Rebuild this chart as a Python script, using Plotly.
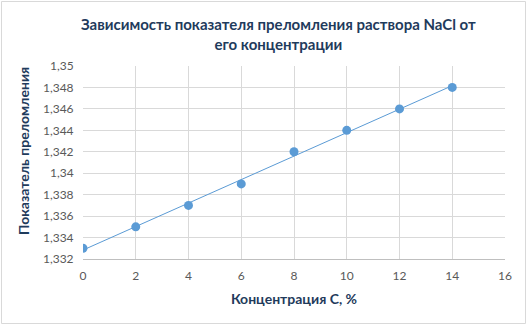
import numpy as np
import plotly.graph_objects as go

# Data
conc = [0, 2, 4, 6, 8, 10, 12, 14]
n_vals = [1.333, 1.335, 1.337, 1.339, 1.342, 1.344, 1.346, 1.348]
y_ticks = [1.332, 1.334, 1.336, 1.338, 1.34, 1.342, 1.344, 1.346, 1.348, 1.35]
y_tick_labels = ["1,332", "1,334", "1,336", "1,338", "1,34", "1,342", "1,344", "1,346", "1,348", "1,35"]
x_ticks = [0, 2, 4, 6, 8, 10, 12, 14, 16]

W, H = 527, 325
L, R, T, B = 83, 22, 66, 66
pw, ph = W - L - R, H - T - B

def px_x(p):
    return (p - L) / pw

def px_y(p):
    return (H - B - p) / ph

# linear trend line computed from data
k, b0 = np.polyfit(conc, n_vals, 1)
tx = [min(conc), max(conc)]
ty = [k * v + b0 for v in tx]

blue = "#5B9BD5"
title_col = "#1F3B5C"
tick_col = "#595959"
grid_col = "#D9D9D9"
font = "Lato, 'Open Sans', sans-serif"

fig = go.Figure()
fig.add_trace(go.Scatter(x=tx, y=ty, mode="lines",
                         line=dict(color=blue, width=1), hoverinfo="skip", showlegend=False))
fig.add_trace(go.Scatter(x=conc, y=n_vals, mode="markers",
                         marker=dict(color=blue, size=9), showlegend=False))

fig.update_layout(
    width=W, height=H,
    margin=dict(l=L, r=R, t=T, b=B),
    paper_bgcolor="white", plot_bgcolor="white",
    separators=", ",
    font=dict(family=font, color=tick_col, size=12),
    xaxis=dict(range=[0, 16], tickvals=x_ticks, showgrid=True, gridcolor=grid_col,
               gridwidth=1, zeroline=False, showline=True, linecolor="#BFBFBF",
               ticks="outside", ticklen=6, tickcolor="rgba(0,0,0,0)",
               tickfont=dict(size=12, color=tick_col),
               title=dict(text="<b>Концентрация С, %</b>", font=dict(size=14, color=title_col),
                          standoff=11),
               fixedrange=True),
    yaxis=dict(range=[1.332, 1.35], tickvals=y_ticks, ticktext=y_tick_labels,
               showgrid=True, gridcolor=grid_col, gridwidth=1, zeroline=False,
               showline=False, ticks="outside", ticklen=6, tickcolor="rgba(0,0,0,0)",
               tickfont=dict(size=12, color=tick_col),
               fixedrange=True),
    annotations=[
        dict(text="<b>Зависимость показателя преломления раствора NaCl от<br>его концентрации</b>",
             xref="paper", yref="paper", x=px_x(278), y=px_y(34),
             xanchor="center", yanchor="middle", showarrow=False, align="center",
             font=dict(size=15, color=title_col, family=font)),
        dict(text="<b>Показатель преломления</b>", textangle=-90,
             xref="paper", yref="paper", x=px_x(23), y=px_y(151),
             xanchor="center", yanchor="middle", showarrow=False,
             font=dict(size=14, color=title_col, family=font))],
    shapes=[dict(type="rect", xref="paper", yref="paper",
                 x0=px_x(1.5), x1=px_x(525.5), y0=px_y(323.5), y1=px_y(1.5),
                 line=dict(color="#D9D9D9", width=1), fillcolor="rgba(0,0,0,0)", layer="below")],
)

fig.write_html("out.html")
